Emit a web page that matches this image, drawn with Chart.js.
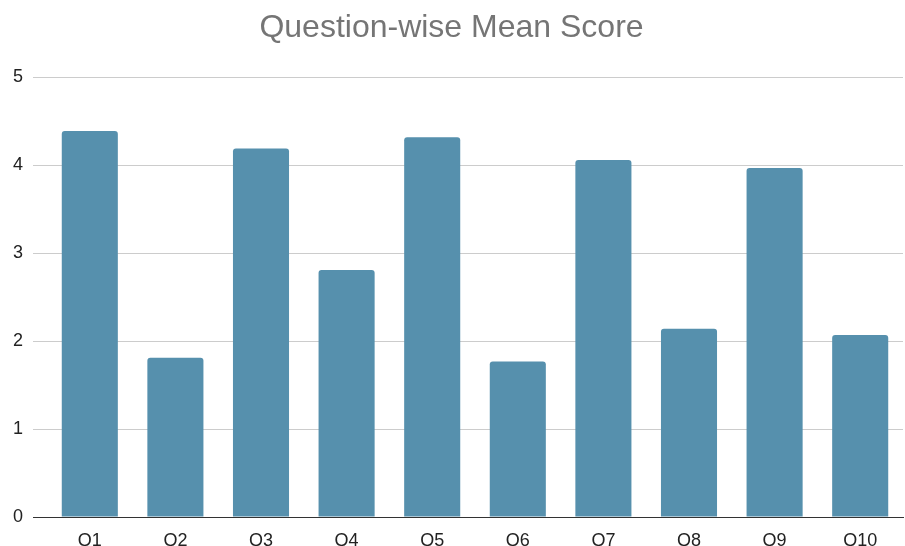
<!DOCTYPE html>
<html>
<head>
<meta charset="utf-8">
<script src="https://cdn.jsdelivr.net/npm/chart.js@4/dist/chart.umd.min.js"></script>
<style>
html,body{margin:0;padding:0;background:#fff;}
#wrap{width:905px;height:546px;position:relative;}
</style>
</head>
<body>
<div id="wrap"><canvas id="c" width="905" height="546"></canvas></div>
<script>
const categories = ["Q1","Q2","Q3","Q4","Q5","Q6","Q7","Q8","Q9","Q10"];
const meanScores = [4.39, 1.81, 4.19, 2.81, 4.32, 1.77, 4.06, 2.14, 3.97, 2.07];
const yTicks = [0, 1, 2, 3, 4, 5];
const titleText = "Question-wise Mean Score";

new Chart(document.getElementById('c'), {
  type: 'bar',
  data: {
    labels: categories,
    datasets: [{
      label: 'Mean Score',
      data: meanScores,
      backgroundColor: '#5690ad',
      borderRadius: {topLeft: 3, topRight: 3, bottomLeft: 0, bottomRight: 0},
      borderSkipped: 'bottom',
      categoryPercentage: 1,
      barPercentage: 0.655
    }]
  },
  options: {
    responsive: false,
    animation: false,
    layout: {padding: {left: 0, right: 2, top: 0, bottom: 0}},
    plugins: {
      legend: {display: false},
      tooltip: {enabled: false},
      title: {
        display: true,
        text: titleText,
        color: '#757575',
        font: {family: 'Liberation Sans, Arial, sans-serif', size: 32, weight: 'normal'},
        padding: {top: 9, bottom: 30}
      }
    },
    scales: {
      x: {
        afterFit: (axis) => { axis.height = 29; },
        grid: {display: false, drawTicks: false},
        border: {display: true, color: '#333333', width: 1},
        ticks: {
          color: '#222222',
          padding: 13,
          maxRotation: 0,
          autoSkip: false,
          font: {family: 'Liberation Sans, Arial, sans-serif', size: 18}
        }
      },
      y: {
        min: 0,
        max: 5,
        afterBuildTicks: (axis) => { axis.ticks = yTicks.map(v => ({value: v})); },
        afterFit: (axis) => { axis.width = 47; },
        border: {display: false},
        grid: {
          color: (ctx) => (ctx.tick && ctx.tick.value === 0) ? '#333333' : '#cccccc',
          lineWidth: 1,
          drawTicks: true,
          tickLength: 14
        },
        ticks: {
          color: '#222222',
          padding: 10,
          font: {family: 'Liberation Sans, Arial, sans-serif', size: 18}
        }
      }
    }
  }
});
</script>
</body>
</html>
